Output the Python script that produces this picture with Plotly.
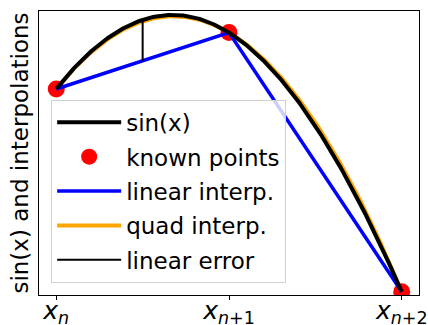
import numpy as np
import plotly.graph_objects as go

# known sample points (x_n, x_{n+1}, x_{n+2}) and their sin values
x_known = [1.1655, 1.7682, 2.3708]
y_known = [0.9188, 0.9807, 0.6967]
tick_labels = ["<i>x</i><sub><i>n</i></sub>",
               "<i>x</i><sub><i>n</i>+1</sub>",
               "<i>x</i><sub><i>n</i>+2</sub>"]
y_range = [0.6931, 1.0043]

# dense x for smooth curves
xs = np.linspace(x_known[0], x_known[-1], 300)
sin_ys = np.sin(xs)
quad = np.polyfit(x_known, y_known, 2)
quad_ys = np.polyval(quad, xs)

# linear error at the midpoint between x_n and x_{n+1}
x_mid = (x_known[0] + x_known[1]) / 2
err_x = [x_mid, x_mid]
err_y = [(y_known[0] + y_known[1]) / 2, np.sin(x_mid)]

span = x_known[-1] - x_known[0]
x_range = [x_known[0] - 0.05 * span, x_known[-1] + 0.05 * span]

font = "DejaVu Sans"

fig = go.Figure()
fig.add_trace(go.Scatter(x=xs, y=quad_ys, mode="lines", name="quad interp.",
                         line=dict(color="orange", width=4), legendrank=4, legendgroup="d"))
fig.add_trace(go.Scatter(x=x_known, y=y_known, mode="markers", name="known points",
                         marker=dict(color="red", size=17), legendrank=2, legendgroup="b"))
fig.add_trace(go.Scatter(x=x_known, y=y_known, mode="lines", name="linear interp.",
                         line=dict(color="blue", width=3.5), legendrank=3, legendgroup="c"))
fig.add_trace(go.Scatter(x=xs, y=sin_ys, mode="lines", name="sin(x)",
                         line=dict(color="black", width=4), legendrank=1, legendgroup="a"))
fig.add_trace(go.Scatter(x=err_x, y=err_y, mode="lines", name="linear error",
                         line=dict(color="black", width=2), legendrank=5, legendgroup="e"))

fig.update_layout(
    width=428, height=325,
    margin=dict(l=39, r=9, t=11, b=30, autoexpand=False),
    plot_bgcolor="white", paper_bgcolor="white",
    font=dict(family=font, size=22, color="black"),
    showlegend=True,
    legend=dict(x=0.032, y=0.043, xanchor="left", yanchor="bottom",
                bgcolor="rgba(255,255,255,0.8)", bordercolor="#d0d0d0", borderwidth=1,
                font=dict(size=23), itemwidth=64, tracegroupgap=1.5, traceorder="grouped"),
)
fig.update_xaxes(range=x_range, tickvals=x_known, ticktext=tick_labels,
                 ticks="outside", ticklen=4, tickcolor="black", tickfont=dict(size=25),
                 ticklabelstandoff=-11,
                 showline=True, linecolor="black", linewidth=1, mirror=True,
                 showgrid=False, zeroline=False, automargin=False)
fig.update_yaxes(range=y_range, showticklabels=False, ticks="",
                 title=dict(text="sin(x) and interpolations", standoff=2, font=dict(size=23)),
                 showline=True, linecolor="black", linewidth=1, mirror=True,
                 showgrid=False, zeroline=False, automargin=False)

# drop the default page margin so the figure sits at the window's corner
fig.write_html("out.html", config={"displayModeBar": False},
               post_script="document.body.style.margin='0';")
